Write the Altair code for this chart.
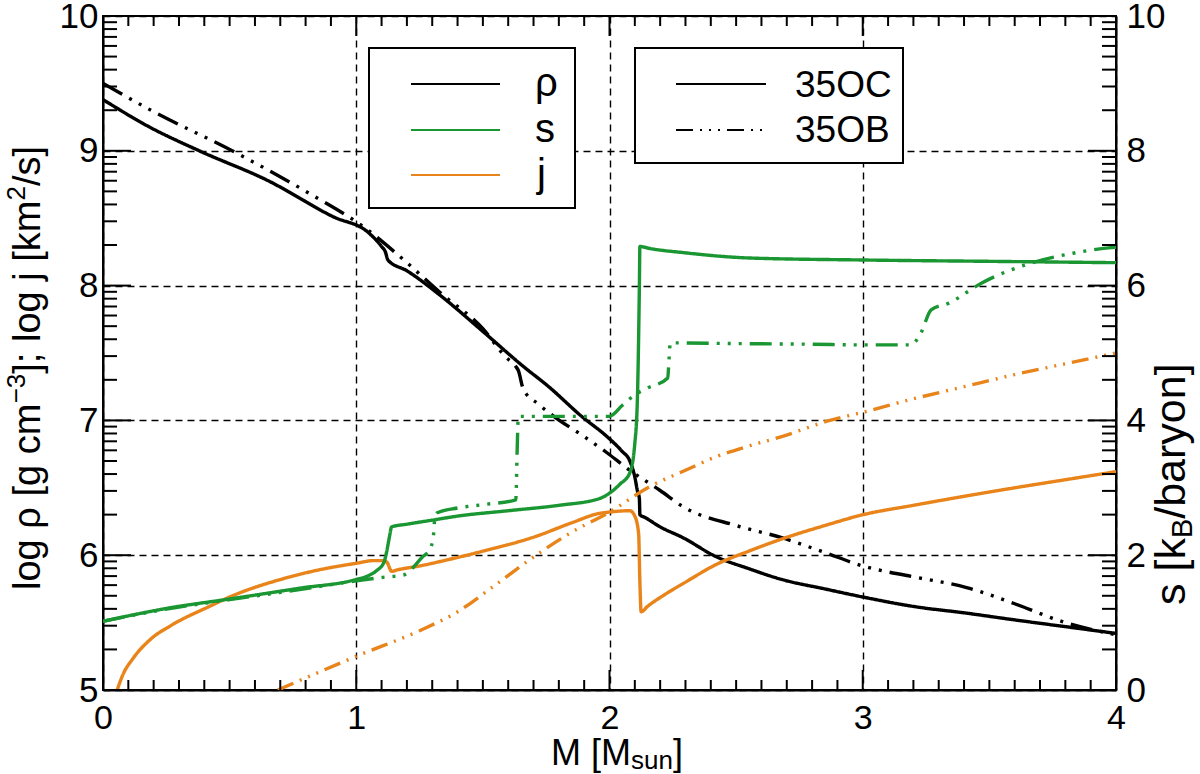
import altair as alt
import pandas as pd

FONT = "Liberation Sans"
GREEN = "#1a9632"
ORANGE = "#e8841a"

# ---------------- data ----------------
M_RHO_OC = [0.00, 0.18, 0.38, 0.65, 0.91, 1.05, 1.10, 1.115, 1.125, 1.20, 1.33, 1.50, 1.66, 1.76, 1.89,
            1.99, 2.05, 2.08, 2.10, 2.11, 2.118, 2.12, 2.14, 2.20, 2.29, 2.42, 2.55, 2.68, 2.85, 3.00,
            3.20, 3.41, 3.60, 3.80, 4.00]
L_RHO_OC = [9.38, 9.18, 9.00, 8.78, 8.51, 8.39, 8.29, 8.25, 8.19, 8.11, 7.93, 7.66, 7.40, 7.25, 7.03,
            6.88, 6.77, 6.70, 6.58, 6.48, 6.42, 6.30, 6.28, 6.21, 6.13, 5.99, 5.90, 5.82, 5.75, 5.69,
            5.62, 5.57, 5.52, 5.47, 5.42]

M_RHO_OB = [0.00, 0.20, 0.51, 0.80, 1.04, 1.20, 1.33, 1.50, 1.59, 1.63, 1.64, 1.66, 1.72, 1.78, 1.90,
            1.99, 2.08, 2.20, 2.29, 2.50, 2.68, 2.85, 3.00, 3.20, 3.41, 3.60, 3.80, 4.00]
L_RHO_OB = [9.50, 9.29, 9.00, 8.70, 8.42, 8.17, 7.95, 7.68, 7.47, 7.40, 7.37, 7.23, 7.12, 7.03, 6.88,
            6.76, 6.63, 6.48, 6.36, 6.22, 6.13, 6.02, 5.92, 5.84, 5.76, 5.64, 5.50, 5.41]

M_J_OC = [0.056, 0.08, 0.117, 0.19, 0.27, 0.42, 0.50, 0.72, 0.85, 1.00, 1.07, 1.10, 1.12, 1.14, 1.16,
          1.25, 1.37, 1.50, 1.71, 1.85, 1.96, 2.00, 2.08, 2.10, 2.115, 2.12, 2.125, 2.15, 2.22, 2.30,
          2.42, 2.55, 2.68, 2.85, 3.00, 3.20, 3.41, 3.60, 3.80, 4.00]
L_J_OC = [5.00, 5.12, 5.23, 5.38, 5.48, 5.62, 5.69, 5.83, 5.89, 5.94, 5.96, 5.96, 5.95, 5.88, 5.89,
          5.92, 5.97, 6.03, 6.14, 6.24, 6.31, 6.32, 6.33, 6.29, 6.16, 5.80, 5.58, 5.62, 5.71, 5.80,
          5.93, 6.03, 6.12, 6.22, 6.30, 6.37, 6.44, 6.50, 6.56, 6.62]

M_J_OB = [0.69, 0.85, 1.00, 1.25, 1.40, 1.55, 1.71, 1.85, 2.00, 2.16, 2.30, 2.42, 2.55, 2.68, 2.87,
          3.00, 3.20, 3.40, 3.60, 3.80, 4.00]
L_J_OB = [5.00, 5.13, 5.25, 5.44, 5.58, 5.78, 6.00, 6.17, 6.32, 6.51, 6.63, 6.73, 6.81, 6.88, 7.00,
          7.06, 7.16, 7.25, 7.34, 7.42, 7.50]

M_S_OC = [0.00, 0.10, 0.25, 0.50, 0.776, 1.00, 1.05, 1.08, 1.11, 1.12, 1.13, 1.14, 1.20, 1.30, 1.40,
          1.60, 1.80, 1.96, 2.00, 2.04, 2.08, 2.10, 2.11, 2.118, 2.12, 2.16, 2.29, 2.55, 3.00, 3.50, 4.00]
S_S_OC = [1.02, 1.10, 1.21, 1.35, 1.51, 1.64, 1.70, 1.77, 1.90, 2.05, 2.25, 2.42, 2.46, 2.52, 2.58,
          2.66, 2.74, 2.84, 2.92, 3.05, 3.22, 3.66, 4.30, 6.00, 6.58, 6.55, 6.49, 6.41, 6.38, 6.36, 6.34]

M_S_OB = [0.00, 0.25, 0.50, 0.776, 1.00, 1.10, 1.19, 1.22, 1.26, 1.29, 1.305, 1.31, 1.32, 1.40, 1.50,
          1.63, 1.635, 1.64, 1.80, 2.00, 2.05, 2.10, 2.15, 2.23, 2.235, 2.24, 2.50, 2.80, 3.00, 3.19,
          3.23, 3.27, 3.34, 3.47, 3.67, 3.83, 3.97, 4.00]
S_S_OB = [1.02, 1.20, 1.34, 1.49, 1.62, 1.67, 1.71, 1.80, 1.97, 2.08, 2.30, 2.55, 2.63, 2.70, 2.75,
          2.82, 3.50, 4.06, 4.06, 4.06, 4.22, 4.38, 4.48, 4.63, 4.90, 5.15, 5.14, 5.13, 5.12, 5.12,
          5.30, 5.64, 5.74, 6.04, 6.34, 6.48, 6.56, 6.57]

X_LABELS = [0, 1, 2, 3, 4]
YL_LABELS = [5, 6, 7, 8, 9, 10]
YR_LABELS = [0, 2, 4, 6, 8, 10]
X_MINOR = [i / 10 for i in range(1, 40) if i % 10 != 0]
Y_MINOR_OFFSETS = [0.301, 0.477, 0.602, 0.699, 0.778, 0.845, 0.903, 0.954]
Y_MINOR = [n + o for n in range(5, 10) for o in Y_MINOR_OFFSETS]

SERIES = ["rho_OC", "rho_OB", "j_OC", "j_OB", "s_OC", "s_OB"]
COLORS = ["black", "black", ORANGE, ORANGE, GREEN, GREEN]
WIDTHS = [3.4, 3.4, 1.6, 1.6, 1.6, 3.4]
DASH_THICK = [22, 8, 3, 8, 3, 8, 3, 8]
DASH_THIN = [17, 7, 2, 7, 2, 7, 2, 7]
DASHES = [[1, 0], DASH_THICK, [1, 0], DASH_THIN, [1, 0], DASH_THICK]

W, H = 1013, 674


def frame(series, ms, vs):
    return pd.DataFrame({"M": ms, "v": vs, "series": series, "ord": list(range(len(ms)))})


left_df = pd.concat([frame("rho_OC", M_RHO_OC, L_RHO_OC), frame("rho_OB", M_RHO_OB, L_RHO_OB),
                     frame("j_OC", M_J_OC, L_J_OC), frame("j_OB", M_J_OB, L_J_OB)])
right_df = pd.concat([frame("s_OC", M_S_OC, S_S_OC), frame("s_OB", M_S_OB, S_S_OB)])

xscale = alt.Scale(domain=[0, 4], nice=False, zero=False)
yl_scale = alt.Scale(domain=[5, 10], nice=False, zero=False)
yr_scale = alt.Scale(domain=[0, 10], nice=False, zero=False)

color_enc = alt.Color("series:N", scale=alt.Scale(domain=SERIES, range=COLORS), legend=None)
width_enc = alt.StrokeWidth("series:N", scale=alt.Scale(domain=SERIES, range=WIDTHS), legend=None)
dash_enc = alt.StrokeDash("series:N", scale=alt.Scale(domain=SERIES, range=DASHES), legend=None)

common_axis = dict(ticks=False, domainColor="black", domainWidth=2, labelFont=FONT,
                   labelColor="black", labelFlush=False, labelOverlap=False, title=None, format="d")

x_axis = alt.Axis(values=X_LABELS, grid=True, gridDash=[7, 5], gridColor="black", gridWidth=1.4,
                  gridOpacity=1, labelPadding=11, labelFontSize=34, **common_axis)
yl_axis = alt.Axis(values=YL_LABELS, grid=True, gridDash=[7, 5], gridColor="black", gridWidth=1.4,
                   gridOpacity=1, labelPadding=5, labelFontSize=35, **common_axis)
yr_axis = alt.Axis(values=YR_LABELS, grid=False, orient="right", labelPadding=10, labelFontSize=35,
                   **common_axis)

X_ENC = alt.X("M:Q", scale=xscale, axis=x_axis)

left_lines = alt.Chart(left_df).mark_line(clip=True, strokeCap="butt", strokeJoin="round",
                                          interpolate="monotone").encode(
    x=X_ENC,
    y=alt.Y("v:Q", scale=yl_scale, axis=yl_axis),
    color=color_enc, strokeWidth=width_enc, strokeDash=dash_enc,
    detail="series:N", order="ord:Q",
)

right_lines = alt.Chart(right_df).mark_line(clip=True, strokeCap="butt", strokeJoin="round",
                                            interpolate="monotone").encode(
    x=X_ENC,
    y=alt.Y("v:Q", scale=yr_scale, axis=yr_axis),
    color=color_enc, strokeWidth=width_enc, strokeDash=dash_enc,
    detail="series:N", order="ord:Q",
)

layers = [left_lines, right_lines]


# inward tick marks on all four sides
def xticks(vals, length):
    d = pd.DataFrame({"M": vals})
    out = []
    for y0, y1 in [(H, H - length), (0, length)]:
        out.append(alt.Chart(d).mark_rule(color="black", strokeWidth=2).encode(
            x=X_ENC, y=alt.value(y0), y2=alt.value(y1)))
    return out


def yticks(vals, length):
    d = pd.DataFrame({"t": vals})
    out = []
    for x0, x1 in [(0, length), (W, W - length)]:
        out.append(alt.Chart(d).mark_rule(color="black", strokeWidth=2).encode(
            y=alt.Y("t:Q", scale=yl_scale, axis=None), x=alt.value(x0), x2=alt.value(x1)))
    return out


layers += xticks(X_MINOR, 10) + xticks(X_LABELS, 20)
layers += yticks(Y_MINOR, 14) + yticks(YL_LABELS, 28)

one = pd.DataFrame({"k": [0]})


def box(x0, x1, y0, y1):
    return alt.Chart(one).mark_rect(fill="white", stroke="black", strokeWidth=2).encode(
        x=alt.value(x0), x2=alt.value(x1), y=alt.value(y0), y2=alt.value(y1))


def hline(x0, x1, y, color, dash=None):
    kw = dict(color=color, strokeWidth=2, strokeCap="butt")
    if dash:
        kw["strokeDash"] = dash
    return alt.Chart(one).mark_rule(**kw).encode(x=alt.value(x0), x2=alt.value(x1), y=alt.value(y))


def txt(s, x, y, size, angle=0, align="left"):
    return alt.Chart(one).mark_text(text=s, font=FONT, fontSize=size, angle=angle, align=align,
                                    baseline="alphabetic", color="black").encode(
        x=alt.value(x), y=alt.value(y))


# legend 1
layers += [box(266, 472, 32, 192),
           hline(308, 397, 68, "black"), hline(308, 397, 114, GREEN), hline(308, 397, 159, ORANGE),
           txt("ρ", 432, 80, 40), txt("s", 432, 126, 40), txt("j", 434, 171, 40)]
# legend 2
layers += [box(532, 800, 32, 147),
           hline(573, 663, 68, "black"), hline(573, 663, 114, "black", DASH_THIN),
           txt("35OC", 692, 81, 37), txt("35OB", 692, 126, 37)]

# axis titles (with super/subscripts), widths from Liberation Sans metrics
# left: log ρ [g cm^-3]; log j [km^2/s]
F, f = 38, 26
lx, ly = -63, 574
w1 = 4.912 * F
w2 = 1.140 * f
w3 = 4.557 * F
w4 = 0.556 * f
layers += [txt("log ρ [g cm", lx, ly, F, 270),
           txt("−3", lx - 15, ly - w1, f, 270),
           txt("]; log j [km", lx, ly - w1 - w2, F, 270),
           txt("2", lx - 15, ly - w1 - w2 - w3, f, 270),
           txt("/s]", lx, ly - w1 - w2 - w3 - w4, F, 270)]
# right: s [k_B/baryon]
RF, rf = 43, 29
rx, ry = 1082, 589
r1 = 1.556 * RF
r2 = 0.667 * rf
layers += [txt("s [k", rx, ry, RF, 270),
           txt("B", rx + 7, ry - r1, rf, 270),
           txt("/baryon]", rx, ry - r1 - r2, RF, 270)]
# bottom: M [M_sun]
BF, bf = 36, 26
bx, by = 448, 749
b1 = 2.222 * BF
b2 = 1.612 * bf
layers += [txt("M [M", bx, by, BF), txt("sun", bx + b1, by + 4, bf), txt("]", bx + b1 + b2, by, BF)]

chart = alt.layer(*layers).resolve_scale(y="independent").properties(
    width=W, height=H,
    autosize=alt.AutoSizeParams(type="none"),
    padding={"left": 103, "top": 16, "right": 84, "bottom": 84},
    background="white",
).configure_view(stroke="black", strokeWidth=2)

chart.save("out.html", embed_options={"renderer": "svg", "actions": False})
